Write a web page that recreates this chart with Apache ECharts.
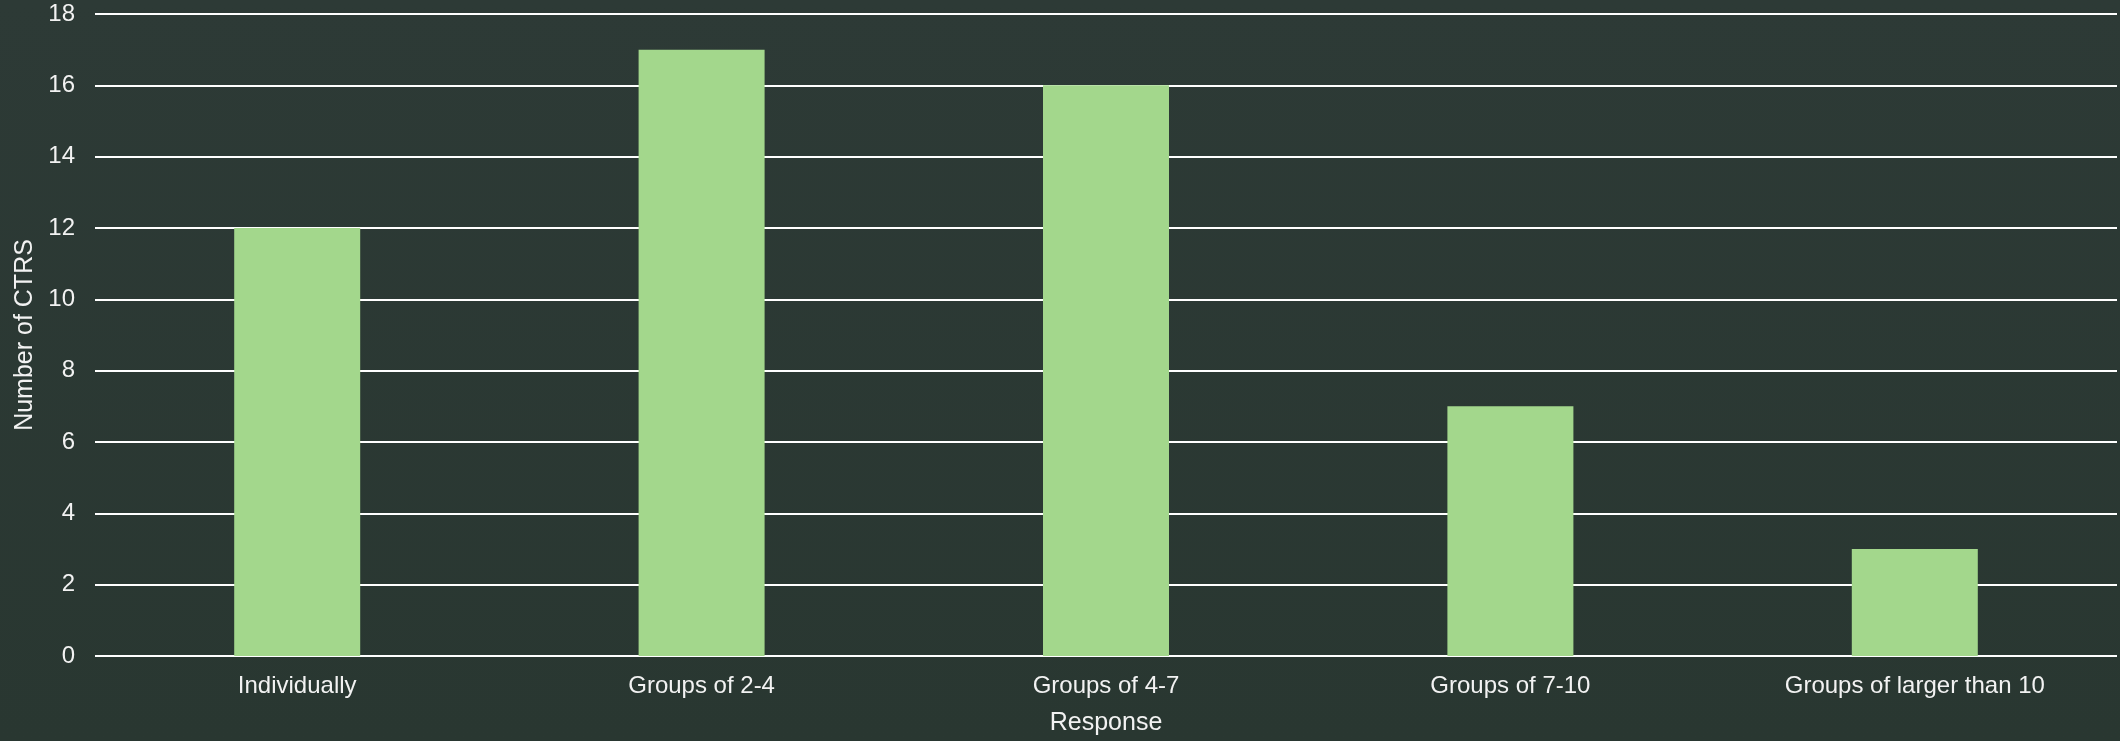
<!DOCTYPE html>
<html>
<head>
<meta charset="utf-8">
<script src="https://cdn.jsdelivr.net/npm/echarts@6/dist/echarts.min.js"></script>
<style>
html,body{margin:0;padding:0;background:#2b3832;}
#chart{width:2120px;height:741px;}
</style>
</head>
<body>
<div id="chart"></div>
<script>
const categories = ["Individually", "Groups of 2-4", "Groups of 4-7", "Groups of 7-10", "Groups of larger than 10"];
const values = [12, 17, 16, 7, 3];
const xAxisTitle = "Response";
const yAxisTitle = "Number of CTRS";

const chart = echarts.init(document.getElementById('chart'), null, {renderer: 'canvas'});
const font = '"Liberation Sans", Arial, sans-serif';
chart.setOption({
  animation: false,
  backgroundColor: {
    type: 'linear', x: 0, y: 0, x2: 0, y2: 1,
    colorStops: [{offset: 0, color: '#2d3a36'}, {offset: 1, color: '#293731'}]
  },
  grid: {left: 95, right: 3, top: 14, bottom: 83, containLabel: false},
  xAxis: {
    type: 'category',
    data: categories,
    name: xAxisTitle,
    nameLocation: 'middle',
    nameGap: 55,
    nameTextStyle: {color: '#f2f2f2', fontSize: 25, fontFamily: font},
    axisLine: {show: false},
    axisTick: {show: false},
    axisLabel: {color: '#f2f2f2', fontSize: 24, fontFamily: font, margin: 18, interval: 0}
  },
  yAxis: {
    type: 'value',
    min: 0, max: 18, interval: 2,
    name: yAxisTitle,
    nameLocation: 'middle',
    nameGap: 57,
    nameTextStyle: {color: '#f2f2f2', fontSize: 25, fontFamily: font},
    axisLine: {show: false},
    axisTick: {show: false},
    axisLabel: {color: '#f2f2f2', fontSize: 24, fontFamily: font, margin: 20},
    splitLine: {lineStyle: {color: '#ffffff', width: 2}}
  },
  series: [{
    type: 'bar',
    data: values,
    barWidth: 126,
    itemStyle: {color: '#a3d78c'}
  }]
});
</script>
</body>
</html>
